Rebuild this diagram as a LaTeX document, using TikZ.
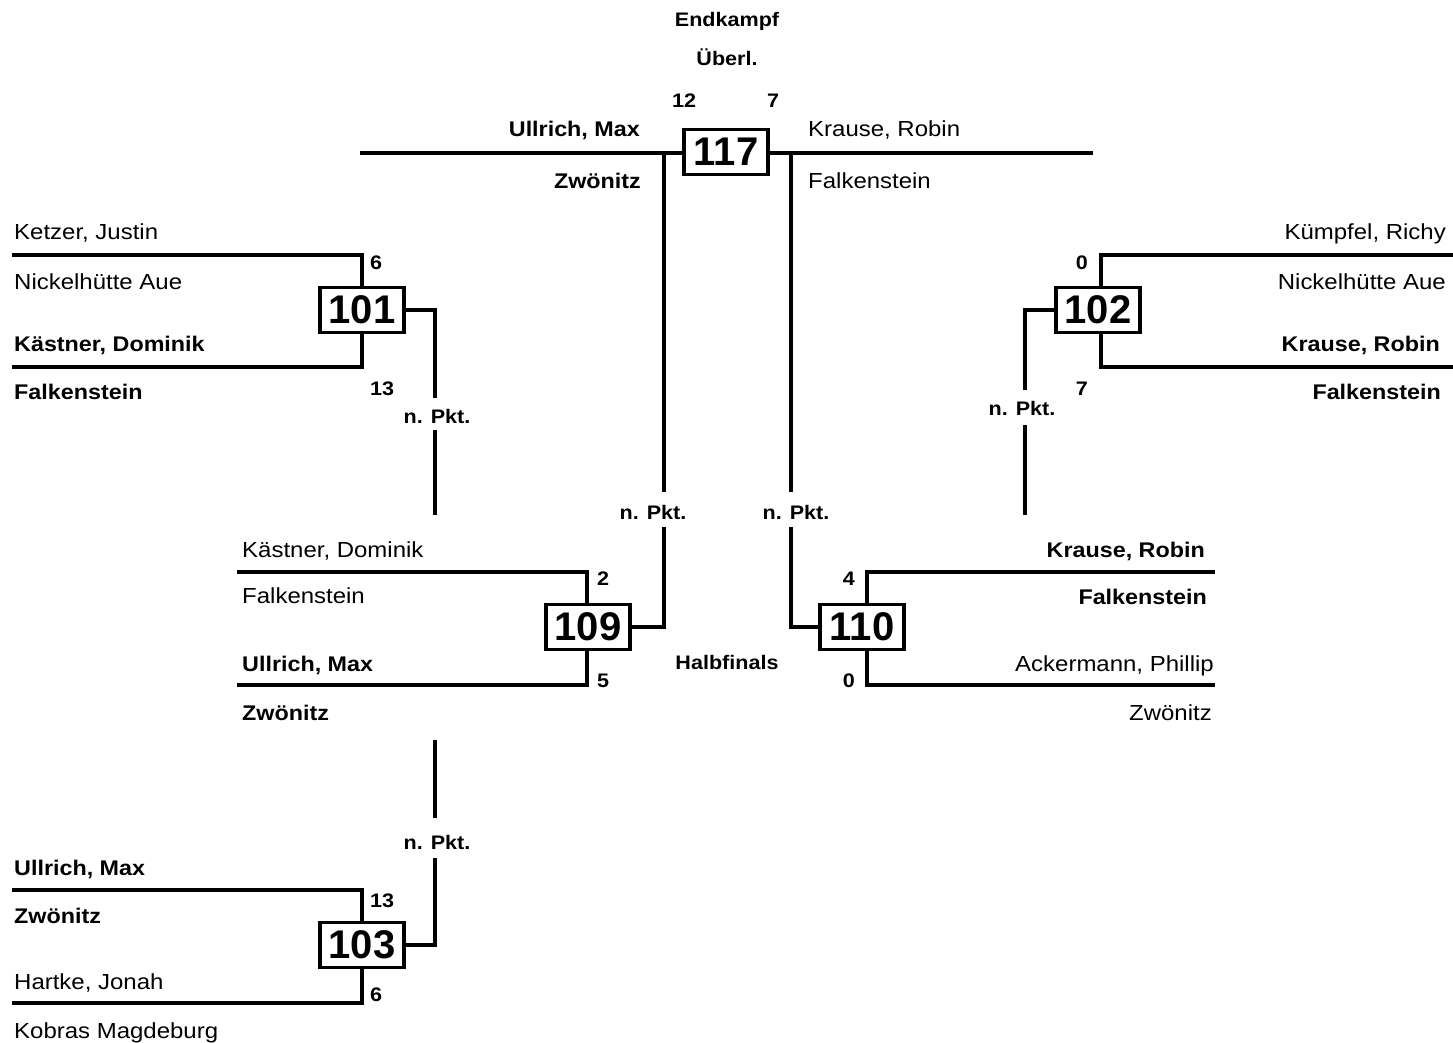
\documentclass[tikz,border=0pt]{standalone}
\usepackage{fontspec}
\setmainfont{Liberation Sans}[FakeStretch=1.1]
\newfontfamily\numfont{Liberation Sans}[FakeStretch=1.0]
\begin{document}
\begin{tikzpicture}[x=1pt,y=-1pt]
\tikzset{
 ln/.style={line width=3.2pt},
 mbox/.style={draw, line width=3.2pt, fill=white, minimum width=84pt, minimum height=45pt, inner sep=0pt, font=\numfont\fontsize{40}{40}\selectfont\bfseries},
 nm/.style={inner sep=0pt, font=\fontsize{21.8}{22}\selectfont},
 nmb/.style={inner sep=0pt, font=\fontsize{21.2}{22}\selectfont\bfseries},
 sc/.style={inner sep=0pt, font=\fontsize{19.6}{20}\selectfont\bfseries},
}
\useasboundingbox (0,0) rectangle (1453,1042);

% ---------- Final 117 ----------
\coordinate (f117L) at (360,153);
\coordinate (f117R) at (1093,153);
\draw[ln] (f117L) -- (f117R);
\node[mbox] (b117) at (726,152) {117};
\node[sc,anchor=base] (t_end) at (727,26) {Endkampf};
\node[sc,anchor=base] (t_ueb) at (727,65) {Überl.};
\node[sc,anchor=base] (s117a) at (684,107) {12};
\node[sc,anchor=base] (s117b) at (773,107) {7};
\node[nmb,anchor=base east] (n117a) at (640,136) {Ullrich, Max};
\node[nmb,anchor=base east] (c117a) at (641,188) {Zwönitz};
\node[nm,anchor=base west] (n117b) at (808,136) {Krause, Robin};
\node[nm,anchor=base west] (c117b) at (808,188) {Falkenstein};

\coordinate (v117La) at (664,153);
\coordinate (v117Lb) at (664,492);
\draw[ln] (v117La) -- (v117Lb);
\node[sc,anchor=base] (np117L) at (653,519) {n. Pkt.};
\coordinate (v117Lc) at (664,527);

\coordinate (v117Ra) at (791,153);
\coordinate (v117Rb) at (791,492);
\draw[ln] (v117Ra) -- (v117Rb);
\node[sc,anchor=base] (np117R) at (796,519) {n. Pkt.};
\coordinate (v117Rc) at (791,527);

% ---------- 101 ----------
\node[mbox] (b101) at (362,310) {101};
\coordinate (e101a) at (12,255);
\coordinate (e101b) at (12,367);
\draw[ln] (b101.north) |- (e101a);
\draw[ln] (b101.south) |- (e101b);
\node[nm,anchor=base west] (n101a) at (14,239) {Ketzer, Justin};
\node[nm,anchor=base west] (c101a) at (14,289) {Nickelhütte Aue};
\node[nmb,anchor=base west] (n101b) at (14,351) {Kästner, Dominik};
\node[nmb,anchor=base west] (c101b) at (14,399) {Falkenstein};
\node[sc,anchor=base west] (s101a) at (370,269) {6};
\node[sc,anchor=base west] (s101b) at (370,395) {13};
\coordinate (o101a) at (435,398);
\draw[ln] (b101.east) -| (o101a);
\node[sc,anchor=base] (np101) at (437,423) {n. Pkt.};
\coordinate (o101b) at (435,430);
\coordinate (o101c) at (435,515);
\draw[ln] (o101b) -- (o101c);

% ---------- 102 ----------
\node[mbox] (b102) at (1098,310) {102};
\coordinate (e102a) at (1453,255);
\coordinate (e102b) at (1453,367);
\draw[ln] ([xshift=3pt]b102.north) |- (e102a);
\draw[ln] ([xshift=3pt]b102.south) |- (e102b);
\node[nm,anchor=base east] (n102a) at (1446,239) {Kümpfel, Richy};
\node[nm,anchor=base east] (c102a) at (1446,289) {Nickelhütte Aue};
\node[nmb,anchor=base east] (n102b) at (1440,351) {Krause, Robin};
\node[nmb,anchor=base east] (c102b) at (1441,399) {Falkenstein};
\node[sc,anchor=base east] (s102a) at (1088,269) {0};
\node[sc,anchor=base east] (s102b) at (1088,395) {7};
\coordinate (o102a) at (1025,390);
\draw[ln] (b102.west) -| (o102a);
\node[sc,anchor=base] (np102) at (1022,415) {n. Pkt.};
\coordinate (o102b) at (1025,425);
\coordinate (o102c) at (1025,515);
\draw[ln] (o102b) -- (o102c);

% ---------- 109 ----------
\node[mbox] (b109) at (588,627) {109};
\coordinate (e109a) at (237,572);
\coordinate (e109b) at (237,685);
\draw[ln] ([xshift=-1pt]b109.north) |- (e109a);
\draw[ln] ([xshift=-1pt]b109.south) |- (e109b);
\draw[ln] (b109.east) -| (v117Lc);
\node[nm,anchor=base west] (n109a) at (242,557) {Kästner, Dominik};
\node[nm,anchor=base west] (c109a) at (242,603) {Falkenstein};
\node[nmb,anchor=base west] (n109b) at (242,671) {Ullrich, Max};
\node[nmb,anchor=base west] (c109b) at (242,720) {Zwönitz};
\node[sc,anchor=base west] (s109a) at (597,585) {2};
\node[sc,anchor=base west] (s109b) at (597,687) {5};
\node[sc,anchor=base] (t_half) at (727,669) {Halbfinals};

% ---------- 110 ----------
\node[mbox] (b110) at (862,627) {110};
\coordinate (e110a) at (1215,572);
\coordinate (e110b) at (1215,685);
\draw[ln] ([xshift=5pt]b110.north) |- (e110a);
\draw[ln] ([xshift=5pt]b110.south) |- (e110b);
\draw[ln] (b110.west) -| (v117Rc);
\node[nmb,anchor=base east] (n110a) at (1205,557) {Krause, Robin};
\node[nmb,anchor=base east] (c110a) at (1207,604) {Falkenstein};
\node[nm,anchor=base east] (n110b) at (1214,671) {Ackermann, Phillip};
\node[nm,anchor=base east] (c110b) at (1212,720) {Zwönitz};
\node[sc,anchor=base east] (s110a) at (855,585) {4};
\node[sc,anchor=base east] (s110b) at (855,687) {0};

% ---------- 103 ----------
\node[mbox] (b103) at (362,945) {103};
\coordinate (e103a) at (12,890);
\coordinate (e103b) at (12,1003);
\draw[ln] (b103.north) |- (e103a);
\draw[ln] (b103.south) |- (e103b);
\node[nmb,anchor=base west] (n103a) at (14,875) {Ullrich, Max};
\node[nmb,anchor=base west] (c103a) at (14,923) {Zwönitz};
\node[nm,anchor=base west] (n103b) at (14,989) {Hartke, Jonah};
\node[nm,anchor=base west] (c103b) at (14,1038) {Kobras Magdeburg};
\node[sc,anchor=base west] (s103a) at (370,907) {13};
\node[sc,anchor=base west] (s103b) at (370,1001) {6};
\coordinate (o103a) at (435,858);
\draw[ln] (b103.east) -| (o103a);
\node[sc,anchor=base] (np103) at (437,849) {n. Pkt.};
\coordinate (o103b) at (435,818);
\coordinate (o103c) at (435,740);
\draw[ln] (o103b) -- (o103c);
\end{tikzpicture}
\end{document}
